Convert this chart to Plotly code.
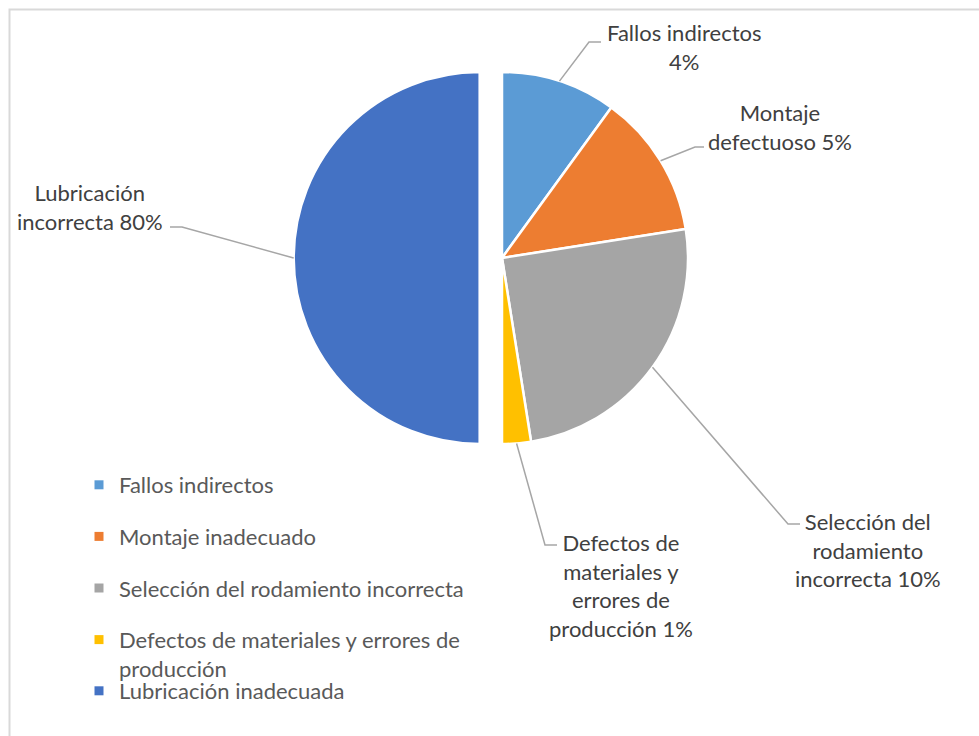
import math
import plotly.graph_objects as go

# ---------------- data ----------------
categories = ["Fallos indirectos", "Montaje inadecuado",
              "Selección del rodamiento incorrecta",
              "Defectos de materiales y errores de producción",
              "Lubricación inadecuada"]
legend_labels = ["Fallos indirectos", "Montaje inadecuado",
                 "Selección del rodamiento incorrecta",
                 "Defectos de materiales y errores de<br>producción",
                 "Lubricación inadecuada"]
values = [4, 5, 10, 1, 20]
data_labels = ["Fallos indirectos<br>4%",
               "Montaje<br>defectuoso 5%",
               "Selección del<br>rodamiento<br>incorrecta 10%",
               "Defectos de<br>materiales y<br>errores de<br>producción 1%",
               "Lubricación<br>incorrecta 80%"]
colors = ["#5B9BD5", "#ED7D31", "#A5A5A5", "#FFC000", "#4472C4"]
pulls = [0, 0, 0, 0, 0.12]

# ---------------- layout constants (pixels) ----------------
W, H = 979, 736
CX, CY, R = 502, 258, 186
FONT = "Lato"
FS = 22
LABEL_TXT = "#404040"
LEGEND_TXT = "#595959"
LEAD = "#A6A6A6"
# label block centres and leader bend / end points
label_pos = [(684, 47), (780, 127), (868, 550), (621, 585), (90, 207)]
lead_bend = [(589, 42), (695, 147), (788, 524), (545, 545), (182, 227)]
lead_end = [(601, 42), (704, 147), (800, 524), (557, 545), (170, 227)]

px = lambda x: x / W
py = lambda y: 1 - y / H

maxpull = max(pulls)
box = 2 * R * (1 + maxpull)
dom_x = [px(CX - box / 2), px(CX + box / 2)]
dom_y = [py(CY + box / 2), py(CY - box / 2)]

fig = go.Figure()
fig.add_trace(go.Pie(
    labels=categories, values=values, sort=False, direction="clockwise",
    rotation=0, pull=pulls, textinfo="none", hoverinfo="label+value",
    marker=dict(colors=colors, line=dict(color="white", width=2.5)),
    domain=dict(x=dom_x, y=dom_y), showlegend=False,
))

# legend entries (dummy marker traces)
for i, (lab, col) in enumerate(zip(legend_labels, colors)):
    fig.add_trace(go.Scatter(
        x=[None], y=[None], mode="markers", name=lab,
        marker=dict(symbol="square", size=9, color=col),
        legendgroup=str(i), legend="legend" if i < 4 else "legend2",
        hoverinfo="skip"))

# leader lines + labels, anchored on slice mid-angles
total = sum(values)
cum = 0
shapes = []
annotations = []
for i, v in enumerate(values):
    mid = (cum + v / 2) / total * 2 * math.pi
    cum += v
    sx, sy = math.sin(mid), -math.cos(mid)
    ccx = CX + pulls[i] * R * sx
    ccy = CY + pulls[i] * R * sy
    x0, y0 = ccx + R * sx, ccy + R * sy
    bx, by = lead_bend[i]
    ex, ey = lead_end[i]
    shapes.append(dict(
        type="path", xref="paper", yref="paper",
        path=f"M {px(x0)} {py(y0)} L {px(bx)} {py(by)} L {px(ex)} {py(ey)}",
        line=dict(color=LEAD, width=1.5)))
    lx, ly = label_pos[i]
    annotations.append(dict(
        x=px(lx), y=py(ly), xref="paper", yref="paper", text=data_labels[i],
        showarrow=False, xanchor="center", yanchor="middle", align="center",
        font=dict(family=FONT, size=FS, color=LABEL_TXT)))

# chart-area border
shapes.append(dict(type="rect", xref="paper", yref="paper",
                   x0=px(9.5), y0=-0.05, x1=1.05, y1=py(9.5),
                   line=dict(color="#D9D9D9", width=2), layer="below"))

legend_common = dict(
    xanchor="left", yanchor="top", bgcolor="rgba(0,0,0,0)",
    font=dict(family=FONT, size=FS, color=LEGEND_TXT), valign="top",
    tracegroupgap=20, traceorder="grouped")

fig.update_layout(
    width=W, height=H, margin=dict(l=0, r=0, t=0, b=0),
    paper_bgcolor="white", plot_bgcolor="white",
    xaxis=dict(visible=False), yaxis=dict(visible=False),
    shapes=shapes, annotations=annotations,
    legend=dict(x=px(79), y=py(464), **legend_common),
    legend2=dict(x=px(79), y=py(670), **legend_common),
    showlegend=True,
)

fig.write_html("out.html", config={"displayModeBar": False},
               post_script="document.body.style.margin='0';document.body.style.overflow='hidden';")
